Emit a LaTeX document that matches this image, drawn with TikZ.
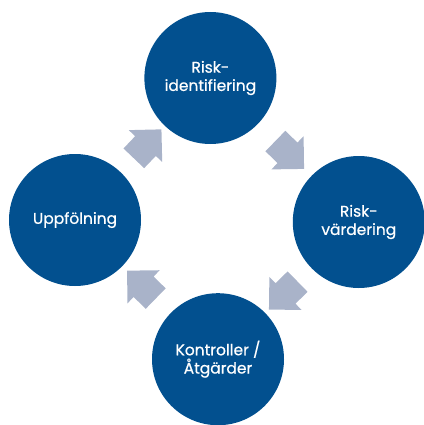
\documentclass[tikz,border=0pt]{standalone}
\usepackage{fontspec}
\setmainfont{Poppins}
\newfontfamily\stegfont{Poppins}[FakeBold=0.6]
\usetikzlibrary{shapes.arrows}
\definecolor{riskblue}{RGB}{2,80,143}
\definecolor{pilgray}{RGB}{169,179,201}

\begin{document}
\begin{tikzpicture}[
  steg/.style={circle, fill=riskblue, text=white, minimum size=3.3cm, inner sep=0pt, align=center, font=\stegfont\fontsize{11}{13}\selectfont},
  pil/.style={single arrow, fill=pilgray, inner sep=0pt, text height=0.7cm, text depth=0pt, minimum height=1.0cm, single arrow head extend=0.22cm, sloped, allow upside down}
]
\useasboundingbox (0,0) rectangle (10.6,-10.625);

\node[steg] (ident) at (5.26,-1.95) {Risk-\\identifiering};
\node[steg] (vard) at (8.97,-5.55) {Risk-\\värdering};
\node[steg] (atg) at (5.45,-8.98) {Kontroller /\\Åtgärder};
\node[steg] (uppf) at (1.875,-5.5) {Uppfölning};

\path (uppf) -- node[pil] (p1) {} (ident);
\path (ident) -- node[pil] (p2) {} (vard);
\path (vard) -- node[pil] (p3) {} (atg);
\path (atg) -- node[pil] (p4) {} (uppf);
\end{tikzpicture}
\end{document}
